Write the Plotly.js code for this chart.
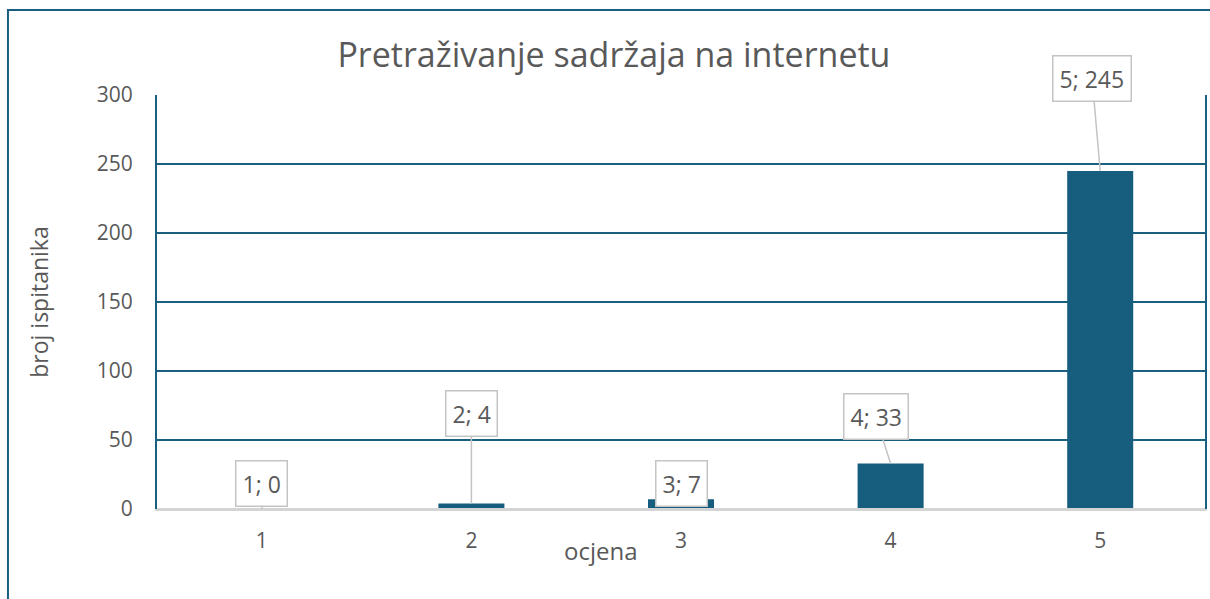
<!DOCTYPE html>
<html>
<head>
<meta charset="utf-8">
<script src="https://cdn.plot.ly/plotly-3.0.1.min.js"></script>
<style>html,body{margin:0;padding:0;background:#fff;}#chart{width:1210px;height:599px;}</style>
</head>
<body>
<div id="chart"></div>
<script>
const categories = ['1', '2', '3', '4', '5'];
const values = [0, 4, 7, 33, 245];
const yTicks = [0, 50, 100, 150, 200, 250, 300];
const chartTitle = 'Pretraživanje sadržaja na internetu';
const xTitle = 'ocjena';
const yTitle = 'broj ispitanika';

// callout offsets (pixels) for each label box
const labelAx = [0, 0, 0, -15, -8];
const labelAy = [-26, -90, -16, -47, -92];

const FONT = 'Open Sans, Liberation Sans, Arial, sans-serif';
const TXT = '#595959';
const BLUE = '#1b5f80';
const BAR = '#175e7e';

const trace = {
  type: 'bar',
  x: categories,
  y: values,
  marker: {color: BAR},
  width: 0.315,
  hoverinfo: 'x+y'
};

const annotations = categories.map((c, i) => ({
  x: i, y: values[i], xref: 'x', yref: 'y',
  text: c + '; ' + values[i],
  showarrow: true, arrowhead: 0, arrowwidth: 1.5, arrowcolor: '#c4c4c4',
  standoff: 0, ax: labelAx[i], ay: labelAy[i],
  bgcolor: '#ffffff', bordercolor: '#c4c4c4', borderwidth: 1.5, borderpad: 6,
  font: {family: FONT, size: 23, color: TXT}
}));

annotations.push({
  xref: 'paper', yref: 'paper', x: 0.424, y: -0.101,
  xanchor: 'center', yanchor: 'middle', showarrow: false,
  text: xTitle, font: {family: FONT, size: 24, color: TXT}
});

const layout = {
  width: 1210, height: 599,
  margin: {l: 157, r: 5, t: 95, b: 90},
  paper_bgcolor: '#ffffff', plot_bgcolor: '#ffffff',
  showlegend: false,
  title: {text: chartTitle, x: 0.5074, xref: 'container', xanchor: 'center', y: 0.908, yanchor: 'middle',
          font: {family: FONT, size: 34, color: TXT}},
  xaxis: {
    type: 'category', range: [-0.5, 4.5],
    showgrid: false, zeroline: false, showline: true, linecolor: '#d4d4d4', linewidth: 2,
    ticks: '', tickfont: {family: FONT, size: 21, color: TXT}, ticklabelstandoff: 12
  },
  yaxis: {
    range: [0, 300], tickvals: yTicks, ticktext: yTicks.map(String),
    showgrid: true, gridcolor: BLUE, gridwidth: 2,
    zeroline: false, showline: true, linecolor: BLUE, linewidth: 2, mirror: true,
    ticks: '', tickfont: {family: FONT, size: 21, color: TXT}, ticklabelstandoff: 18,
    title: {text: yTitle, standoff: 42, font: {family: FONT, size: 23, color: TXT}}
  },
  shapes: [
    {type: 'rect', xref: 'paper', yref: 'paper', x0: -0.1422, x1: 1.2, y0: -0.5, y1: 1.2053,
     line: {color: BLUE, width: 2}, fillcolor: 'rgba(0,0,0,0)', layer: 'below'},
    {type: 'line', xref: 'paper', yref: 'paper', x0: 0, x1: 1, y0: 0, y1: 0,
     line: {color: '#d4d4d4', width: 2}}
  ],
  annotations: annotations
};

Plotly.newPlot('chart', [trace], layout, {displayModeBar: false, staticPlot: true});
</script>
</body>
</html>
